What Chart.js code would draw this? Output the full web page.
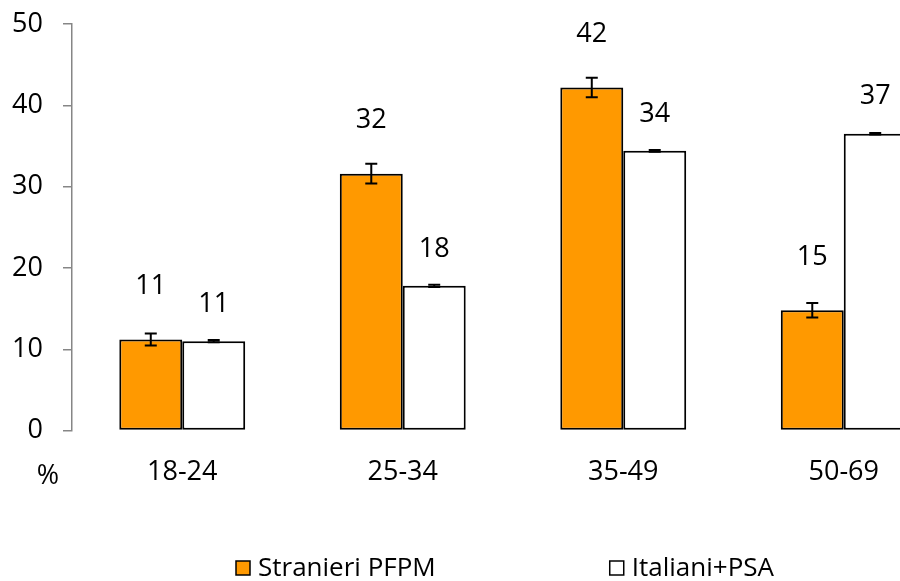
<!DOCTYPE html>
<html>
<head>
<meta charset="utf-8">
<script src="https://cdn.jsdelivr.net/npm/chart.js@4.4.1/dist/chart.umd.min.js"></script>
<style>
  html, body { margin: 0; padding: 0; background: #fff; overflow: hidden; }
  #wrap { position: relative; width: 960px; height: 581px; }
</style>
</head>
<body>
<div id="wrap"><canvas id="c"></canvas></div>
<script>
const categories = ['18-24', '25-34', '35-49', '50-69'];
const seriesNames = ['Stranieri PFPM', 'Italiani+PSA'];
const stranieri = [11.2, 31.6, 42.2, 14.8];
const italiani = [11.0, 17.8, 34.4, 36.5];
const stranieriErr = [0.75, 1.2, 1.2, 0.9];
const italianiErr = [0.15, 0.15, 0.1, 0.1];
const yTicks = [0, 10, 20, 30, 40, 50];
const axisUnit = '%';

const FONT = "'Open Sans', 'DejaVu Sans', sans-serif";

const errorBarsPlugin = {
  id: 'errorBars',
  afterDatasetsDraw(chart) {
    const ctx = chart.ctx;
    const y = chart.scales.y;
    chart.data.datasets.forEach((ds, di) => {
      const meta = chart.getDatasetMeta(di);
      if (!ds.errors) return;
      meta.data.forEach((bar, i) => {
        const v = ds.data[i], e = ds.errors[i];
        const yTop = y.getPixelForValue(v + e);
        const yBot = y.getPixelForValue(v - e);
        const cap = 6;
        ctx.save();
        ctx.strokeStyle = '#000';
        ctx.lineWidth = 2;
        ctx.beginPath();
        ctx.moveTo(bar.x, yTop); ctx.lineTo(bar.x, yBot);
        ctx.moveTo(bar.x - cap, yTop); ctx.lineTo(bar.x + cap, yTop);
        ctx.moveTo(bar.x - cap, yBot); ctx.lineTo(bar.x + cap, yBot);
        ctx.stroke();
        ctx.restore();
      });
    });
  }
};

const valueLabelsPlugin = {
  id: 'valueLabels',
  afterDatasetsDraw(chart) {
    const ctx = chart.ctx;
    chart.data.datasets.forEach((ds, di) => {
      const meta = chart.getDatasetMeta(di);
      meta.data.forEach((bar, i) => {
        ctx.save();
        ctx.font = "27px " + FONT;
        ctx.fillStyle = '#000';
        ctx.textAlign = 'center';
        ctx.textBaseline = 'middle';
        ctx.fillText(String(Math.round(ds.data[i])), bar.x, bar.y - ds.labelLift);
        ctx.restore();
      });
    });
  }
};

const extrasPlugin = {
  id: 'extras',
  afterDraw(chart) {
    const ctx = chart.ctx;
    const area = chart.chartArea;
    ctx.save();
    ctx.font = "27px " + FONT;
    ctx.fillStyle = '#000';
    ctx.textAlign = 'center';
    ctx.textBaseline = 'middle';
    ctx.fillText(axisUnit, area.left - 24, area.bottom + 46);
    // legend
    ctx.font = "26px " + FONT;
    ctx.textAlign = 'left';
    const box = 14, gapText = 8, gapItems = 174;
    const widths = chart.data.datasets.map(ds => box + gapText + ctx.measureText(ds.label).width);
    const total = widths.reduce((a, b) => a + b, 0) + gapItems * (widths.length - 1);
    let x = 505 - total / 2;
    const yc = 568;
    chart.data.datasets.forEach((ds, di) => {
      ctx.fillStyle = ds.backgroundColor;
      ctx.fillRect(x, yc - box / 2, box, box);
      ctx.strokeStyle = '#000';
      ctx.lineWidth = 1.5;
      ctx.strokeRect(x, yc - box / 2, box, box);
      ctx.fillStyle = '#000';
      ctx.fillText(ds.label, x + box + gapText, yc + 1);
      x += widths[di] + gapItems;
    });
    ctx.restore();
  }
};

new Chart(document.getElementById('c'), {
  type: 'bar',
  data: {
    labels: categories,
    datasets: [
      { label: seriesNames[0], data: stranieri, errors: stranieriErr, labelLift: 53,
        backgroundColor: '#FF9900', borderColor: '#000', borderWidth: 2, borderSkipped: false },
      { label: seriesNames[1], data: italiani, errors: italianiErr, labelLift: 37,
        backgroundColor: '#FFFFFF', borderColor: '#000', borderWidth: 2, borderSkipped: false }
    ]
  },
  options: {
    responsive: true,
    maintainAspectRatio: false,
    animation: false,
    devicePixelRatio: 1,
    categoryPercentage: 0.571,
    barPercentage: 1.0,
    layout: { padding: { top: 24, left: 11, right: 6, bottom: 66 } },
    plugins: {
      legend: { display: false },
      tooltip: { enabled: false }
    },
    scales: {
      x: {
        grid: { display: false, drawTicks: false },
        border: { display: false },
        ticks: { color: '#000', font: { family: FONT, size: 27 }, padding: 26 }
      },
      y: {
        min: 0, max: 50,
        afterBuildTicks(scale) { scale.ticks = yTicks.map(v => ({ value: v })); },
        afterFit(scale) { scale.width = 61; scale.paddingTop = 0; scale.paddingBottom = 0; },
        grid: { drawOnChartArea: false, drawTicks: true, tickLength: 9, color: '#868686', lineWidth: 1.5 },
        border: { display: true, color: '#868686', width: 1.5 },
        ticks: { color: '#000', font: { family: FONT, size: 27 }, padding: 20 }
      }
    }
  },
  plugins: [errorBarsPlugin, valueLabelsPlugin, extrasPlugin]
});
</script>
</body>
</html>
